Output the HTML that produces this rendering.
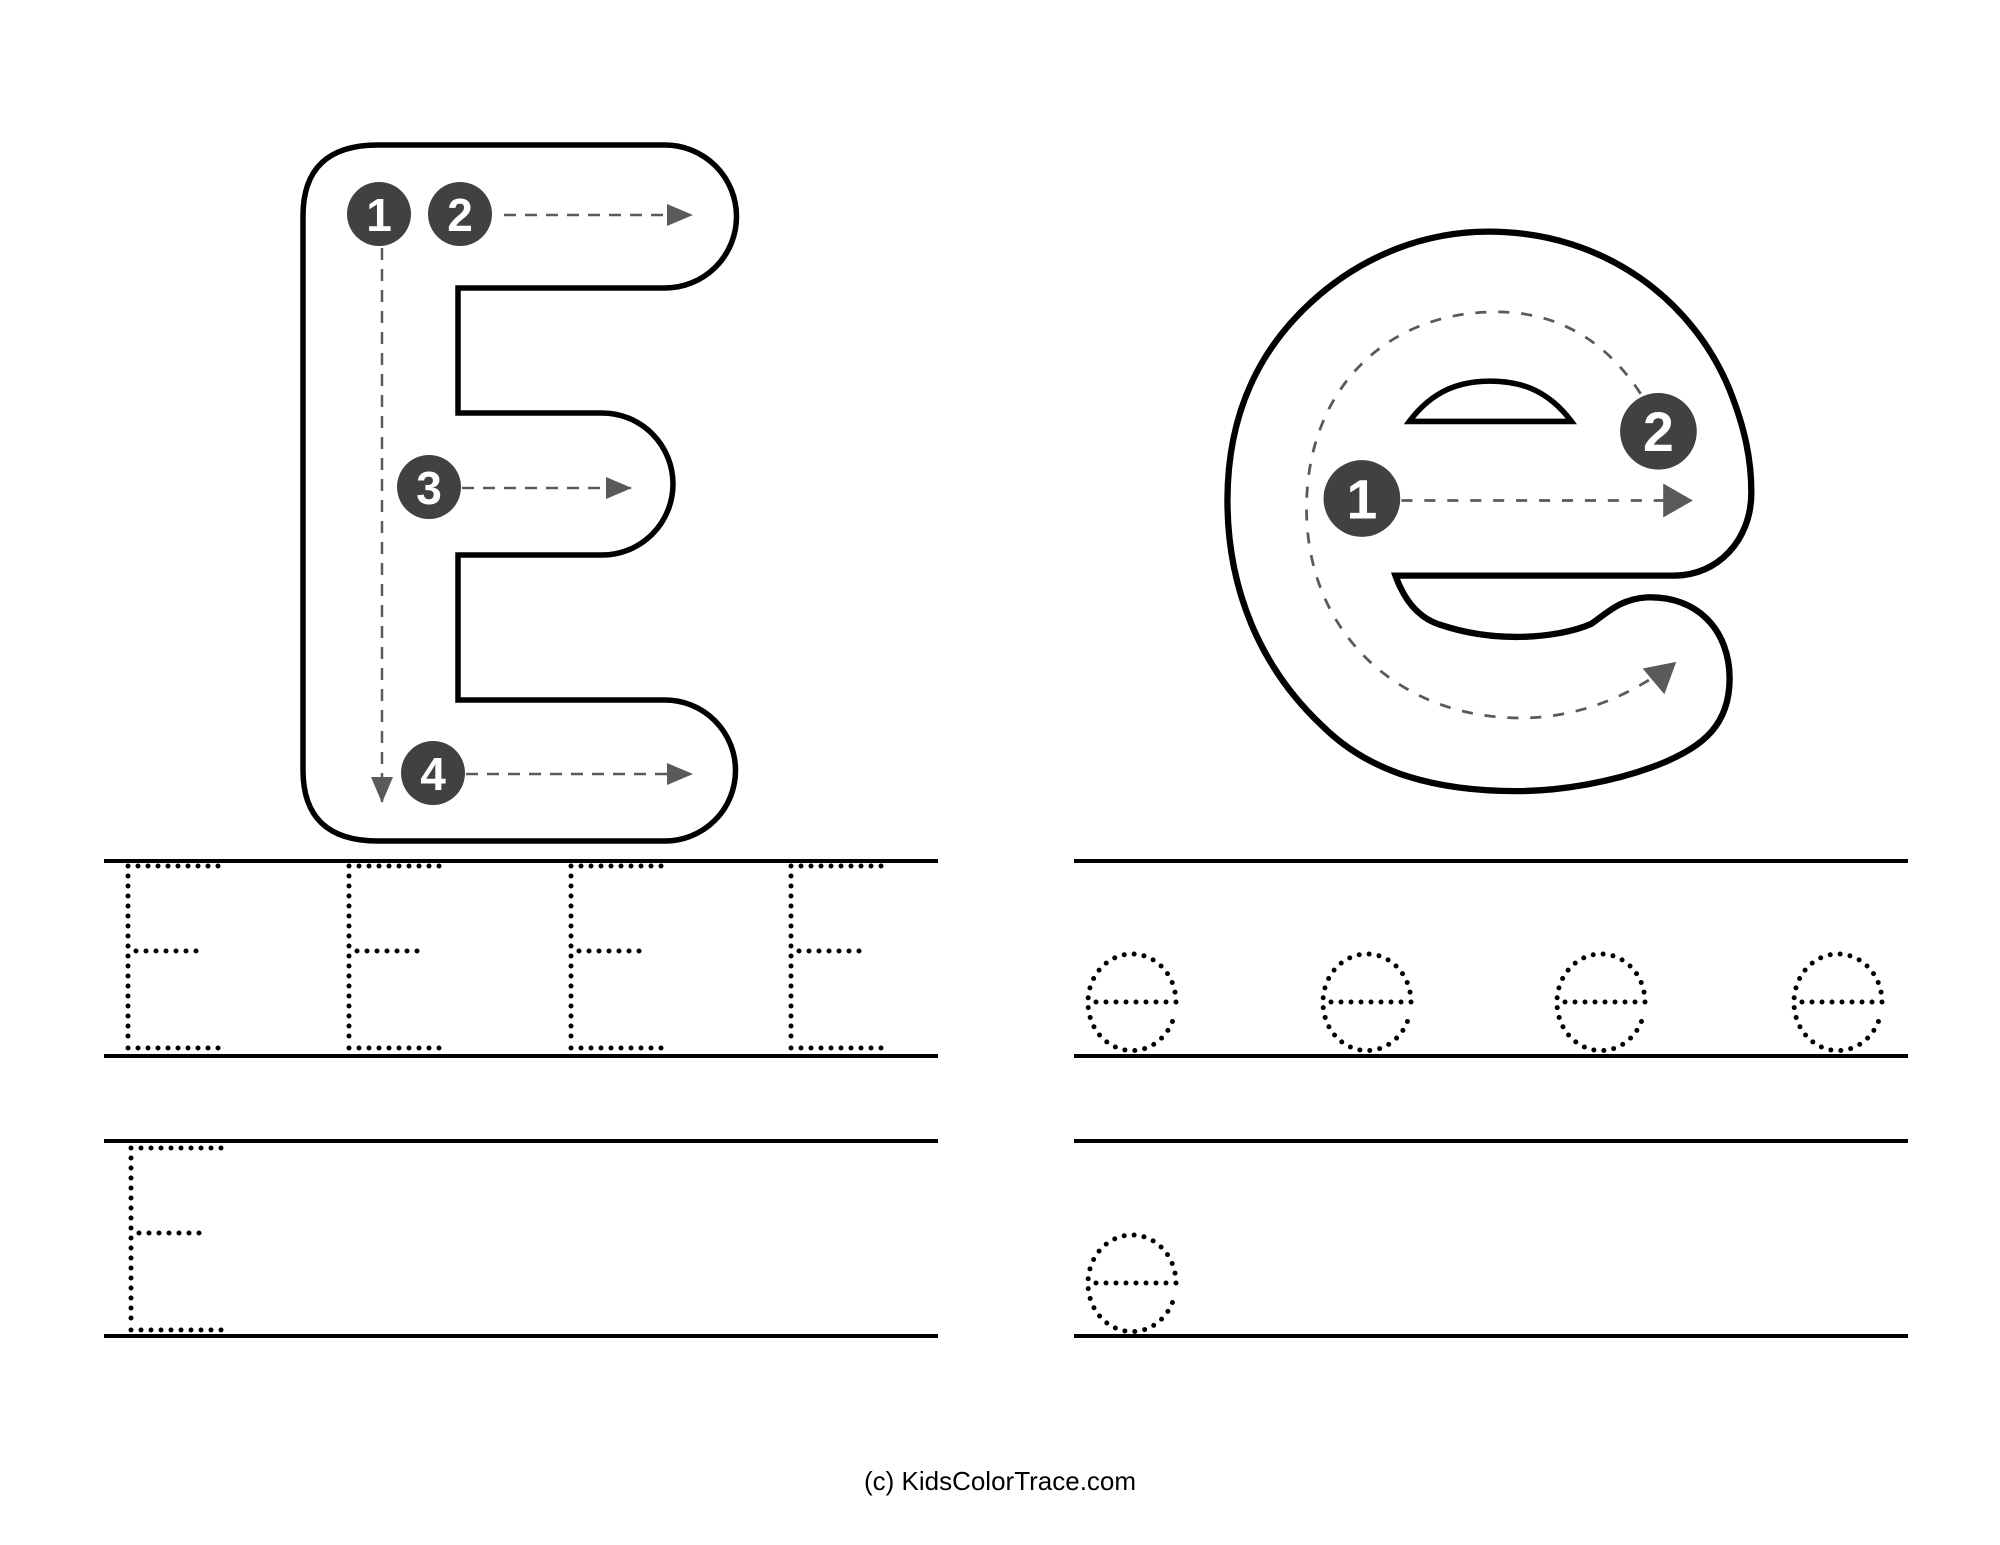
<!DOCTYPE html>
<html><head><meta charset="utf-8"><style>
html,body{margin:0;padding:0;background:#fff;}
svg{display:block;}
.num{font-family:"Liberation Sans",sans-serif;font-weight:bold;fill:#fff;text-anchor:middle;}
</style></head><body>
<svg width="2000" height="1545" viewBox="0 0 2000 1545" xmlns="http://www.w3.org/2000/svg">
<defs>
<marker id="ah2" markerWidth="26" markerHeight="22" refX="25" refY="11" orient="auto" markerUnits="userSpaceOnUse" viewBox="0 0 26 22">
<path d="M0,0 L26,11 L0,22 z" fill="#5a5a5a"/>
</marker>
</defs>

<path d="M378,145 L665,145 A71.5,71.5 0 0 1 665,288 L458,288 L458,413 L602,413 A71,71 0 0 1 602,555 L458,555 L458,700 L665,700 A70.5,70.5 0 0 1 665,841 L378,841 Q303,841 303,770 L303,216 Q303,145 378,145 Z" fill="#fff" stroke="#000" stroke-width="5.5"/>

<g stroke="#5a5a5a" stroke-width="2.5" stroke-dasharray="12 9" fill="none">
<line x1="382" y1="248" x2="382" y2="802" marker-end="url(#ah2)"/>
<line x1="504" y1="215" x2="692" y2="215" marker-end="url(#ah2)"/>
<line x1="462" y1="488" x2="631" y2="488" marker-end="url(#ah2)"/>
<line x1="466" y1="774" x2="692" y2="774" marker-end="url(#ah2)"/>
</g>
<g fill="#414143">
<circle cx="379" cy="214" r="32"/>
<circle cx="460" cy="214" r="32"/>
<circle cx="429" cy="487" r="32"/>
<circle cx="433" cy="773" r="32"/>
</g>
<text class="num" x="379" y="231" font-size="46">1</text>
<text class="num" x="460" y="231" font-size="46">2</text>
<text class="num" x="429" y="504" font-size="46">3</text>
<text class="num" x="433" y="790" font-size="46">4</text>

<g transform="translate(1180,200) scale(0.3954)">
<path d="M780,80 C1080,80 1300,260 1390,480 C1430,580 1445,660 1445,740 C1445,860 1360,950 1250,950 L545,950 C570,1020 610,1060 660,1075 C720,1095 780,1105 850,1105 C930,1105 1000,1090 1040,1072 C1080,1045 1110,1010 1180,1005 C1310,1000 1390,1090 1390,1210 C1390,1330 1320,1380 1230,1420 C1100,1475 950,1495 850,1495 C650,1495 480,1450 360,1330 C200,1180 120,980 120,760 C120,540 200,380 330,260 C460,140 620,80 780,80 Z" fill="#fff" stroke="#000" stroke-width="16"/>
<path d="M580,560 C640,480 710,458 785,458 C860,458 930,480 990,560 Z" fill="#fff" stroke="#000" stroke-width="14"/>
<path d="M1165,490 C1080,360 960,283 800,283 C520,283 320,480 320,780 C320,1100 560,1310 860,1310 C1000,1310 1120,1260 1215,1195" fill="none" stroke="#5a5a5a" stroke-width="7" stroke-dasharray="28 30"/>
<path d="M1170,1185 L1255,1168 L1225,1250 Z" fill="#5a5a5a"/>
<line x1="560" y1="760" x2="1225" y2="760" stroke="#5a5a5a" stroke-width="7" stroke-dasharray="28 30"/>
<path d="M1222,717 L1297,760 L1222,803 Z" fill="#5a5a5a"/>
<circle cx="1210" cy="585" r="97" fill="#414143"/>
<circle cx="460" cy="755" r="97" fill="#414143"/>
<text class="num" x="1210" y="635" font-size="140">2</text>
<text class="num" x="460" y="805" font-size="140">1</text>
</g>

<g stroke="#000" stroke-width="4">
<line x1="104" y1="861" x2="938" y2="861"/>
<line x1="104" y1="1056" x2="938" y2="1056"/>
<line x1="104" y1="1141" x2="938" y2="1141"/>
<line x1="104" y1="1336" x2="938" y2="1336"/>
<line x1="1074" y1="861" x2="1908" y2="861"/>
<line x1="1074" y1="1056" x2="1908" y2="1056"/>
<line x1="1074" y1="1141" x2="1908" y2="1141"/>
<line x1="1074" y1="1336" x2="1908" y2="1336"/>
</g>

<g stroke="#000" stroke-width="5" stroke-linecap="round" stroke-dasharray="0 10" fill="none">
<g id="de">
<line x1="128" y1="866" x2="228" y2="866"/>
<line x1="128" y1="876" x2="128" y2="1040"/>
<line x1="136" y1="951" x2="198" y2="951"/>
<line x1="128" y1="1048" x2="228" y2="1048"/>
</g>
<use href="#de" x="221"/>
<use href="#de" x="443"/>
<use href="#de" x="663"/>
<use href="#de" x="3" y="282"/>

<g id="dee">
<path d="M1176,1002 L1088,1002 M1176,1002 A44,48 0 1 0 1088,1002 A44,48 0 0 0 1173,1020"/>
</g>
<use href="#dee" x="235"/>
<use href="#dee" x="469"/>
<use href="#dee" x="706"/>
<use href="#dee" y="281"/>
</g>

<text x="1000" y="1490" font-family="Liberation Sans, sans-serif" font-size="26" text-anchor="middle" fill="#000">(c) KidsColorTrace.com</text>
</svg>
</body></html>
